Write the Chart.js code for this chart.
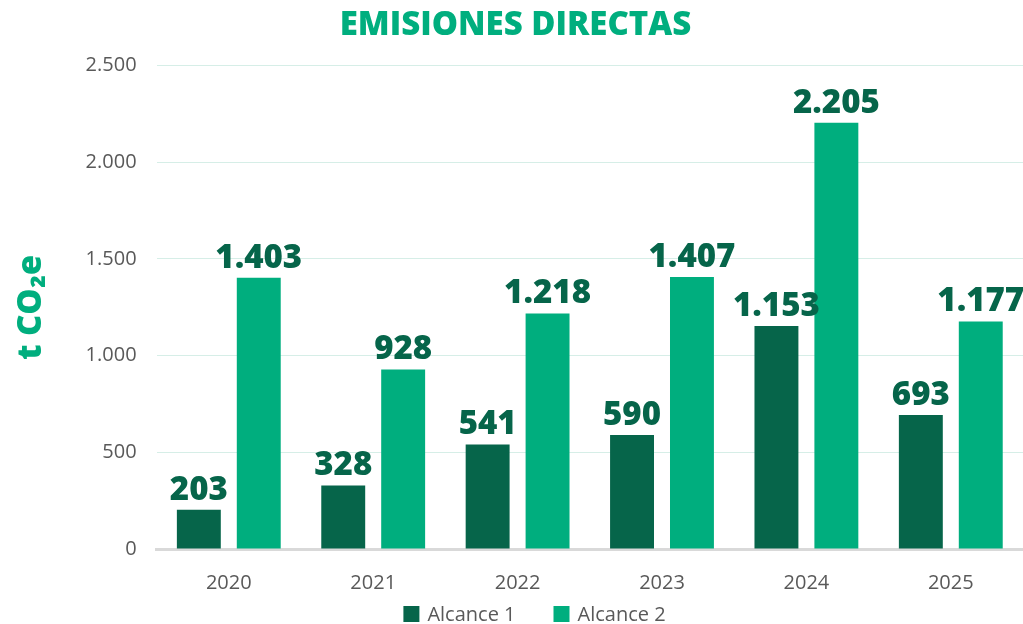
<!DOCTYPE html>
<html>
<head>
<meta charset="utf-8">
<script src="https://cdn.jsdelivr.net/npm/chart.js@4.4.1/dist/chart.umd.min.js"></script>
<style>
    html, body { margin: 0; padding: 0; background: #ffffff; }
    #wrap { width: 1023px; height: 624px; position: relative; }
</style>
</head>
<body>
<div id="wrap"><canvas id="emisionesChart"></canvas></div>
<script>
// Chart data
const years = ['2020', '2021', '2022', '2023', '2024', '2025'];
const alcance1 = [203, 328, 541, 590, 1153, 693];
const alcance2 = [1403, 928, 1218, 1407, 2205, 1177];
const yTicks = [0, 500, 1000, 1500, 2000, 2500];

const DARK_GREEN = '#06654a';
const LIGHT_GREEN = '#00ae7e';
const TEXT_GRAY = '#595959';
const FONT = '"Open Sans", sans-serif';

function formatNumber(n) {
    return String(n).replace(/\B(?=(\d{3})+(?!\d))/g, '.');
}

// Value labels above each bar
const barLabels = {
    id: 'barLabels',
    afterDatasetsDraw(chart) {
        const ctx = chart.ctx;
        ctx.save();
        ctx.font = '800 33px ' + FONT;
        ctx.fillStyle = DARK_GREEN;
        ctx.textAlign = 'center';
        ctx.textBaseline = 'bottom';
        chart.data.datasets.forEach((ds, i) => {
            chart.getDatasetMeta(i).data.forEach((bar, j) => {
                ctx.fillText(formatNumber(ds.data[j]), bar.x, bar.y - 3);
            });
        });
        ctx.restore();
    }
};

// Compact legend at the very bottom
const bottomLegend = {
    id: 'bottomLegend',
    afterDraw(chart) {
        const ctx = chart.ctx;
        const datasets = chart.data.datasets;
        const box = 16, gapText = 8, gapItem = 38;
        ctx.save();
        ctx.font = '20px ' + FONT;
        ctx.textBaseline = 'middle';
        const widths = datasets.map(ds => box + gapText + ctx.measureText(ds.label).width);
        const total = widths.reduce((s, w) => s + w, 0) + gapItem * (datasets.length - 1);
        let x = chart.width / 2 + 23 - total / 2;
        const y = chart.height - 10;
        datasets.forEach((ds, i) => {
            ctx.fillStyle = ds.backgroundColor;
            ctx.fillRect(x, y - box / 2, box, box);
            ctx.fillStyle = TEXT_GRAY;
            ctx.fillText(ds.label, x + box + gapText, y + 1);
            x += widths[i] + gapItem;
        });
        ctx.restore();
    }
};

new Chart(document.getElementById('emisionesChart'), {
    type: 'bar',
    data: {
        labels: years,
        datasets: [
            {
                label: 'Alcance 1',
                data: alcance1,
                backgroundColor: DARK_GREEN,
                categoryPercentage: 0.83,
                barPercentage: 0.733
            },
            {
                label: 'Alcance 2',
                data: alcance2,
                backgroundColor: LIGHT_GREEN,
                categoryPercentage: 0.83,
                barPercentage: 0.733
            }
        ]
    },
    options: {
        responsive: true,
        maintainAspectRatio: false,
        animation: false,
        layout: { padding: { left: 8, right: 0, top: 0, bottom: 29 } },
        plugins: {
            title: {
                display: true,
                text: 'EMISIONES DIRECTAS',
                color: LIGHT_GREEN,
                font: { family: FONT, size: 33, weight: '800' },
                padding: { top: 6, bottom: 20 }
            },
            legend: { display: false },
            tooltip: { enabled: false }
        },
        scales: {
            x: {
                grid: { display: false },
                border: { color: '#d9d9d9', width: 3 },
                ticks: {
                    color: TEXT_GRAY,
                    font: { family: FONT, size: 20 },
                    padding: 14
                },
                afterFit(scale) {
                    scale.height = 46;
                }
            },
            y: {
                min: 0,
                max: 2500,
                afterBuildTicks(axis) {
                    axis.ticks = yTicks.map(v => ({ value: v }));
                },
                grid: { color: '#d6eee7', drawTicks: false },
                border: { display: false },
                ticks: {
                    color: TEXT_GRAY,
                    font: { family: FONT, size: 20 },
                    padding: 20,
                    callback: v => formatNumber(v)
                },
                title: {
                    display: true,
                    text: 't CO₂e',
                    color: LIGHT_GREEN,
                    font: { family: FONT, size: 33, weight: '800' },
                    padding: { bottom: 14 }
                }
            }
        }
    },
    plugins: [barLabels, bottomLegend]
});
</script>
</body>
</html>
